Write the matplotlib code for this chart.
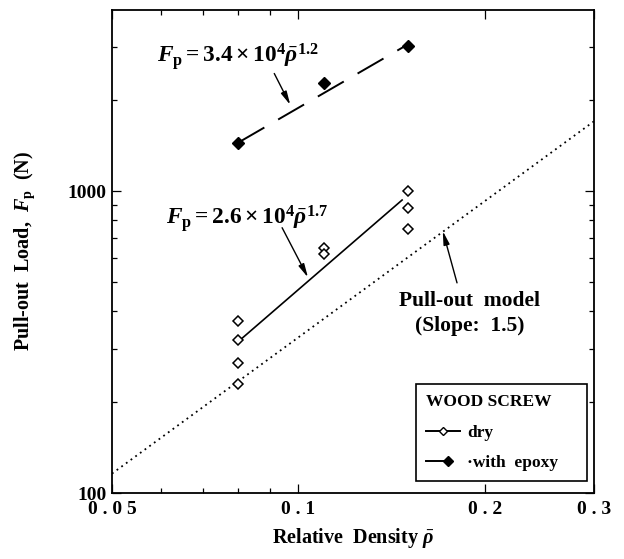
import matplotlib
matplotlib.use("Agg")
import matplotlib.pyplot as plt
import numpy as np
from matplotlib.lines import Line2D
from matplotlib.legend_handler import HandlerBase
from matplotlib.ticker import FixedLocator, FixedFormatter, NullFormatter

plt.rcParams['font.family'] = ['Liberation Serif', 'DejaVu Serif']
plt.rcParams['font.weight'] = 'bold'
plt.rcParams['axes.labelweight'] = 'bold'
plt.rcParams['mathtext.fontset'] = 'custom'
plt.rcParams['mathtext.rm'] = 'Liberation Serif:bold'
plt.rcParams['mathtext.it'] = 'Liberation Serif:italic:bold'
plt.rcParams['mathtext.bf'] = 'Liberation Serif:bold'
plt.rcParams['mathtext.sf'] = 'Liberation Serif:italic'

# --- measured pull-out loads (N) vs relative density ---
dry_density = [0.08, 0.08, 0.08, 0.08, 0.11, 0.11, 0.15, 0.15, 0.15]
dry_load = [372, 322, 269, 230, 650, 618, 1000, 877, 747]

epoxy_density = [0.08, 0.11, 0.15]
epoxy_load = [1443, 2278, 3026]

# power-law fits drawn over the measured range
fit_density = [0.08, 0.147]
dry_fit_load = [318, 935]
epoxy_fit_density = [0.08, 0.15]
epoxy_fit_load = [1450, 3060]

# pull-out model: F = C * rho^1.5
model_slope = 1.5
model_coef = 10375
model_density = np.array([0.05, 0.3])

x_major = [0.05, 0.1, 0.2, 0.3]
x_major_labels = ['0 . 0 5', '0 . 1', '0 . 2', '0 . 3']
x_minor = [0.06, 0.07, 0.08, 0.09]
y_major = [100, 1000]
y_major_labels = ['100', '1000']
y_minor = [200, 300, 400, 500, 600, 700, 800, 900, 2000, 3000]

fig = plt.figure(figsize=(6.24, 5.59), dpi=100)
ax = fig.add_axes([0.1795, 0.118, 0.7724, 0.865])
ax.set_xscale('log')
ax.set_yscale('log')
ax.set_xlim(0.05, 0.3)
ax.set_ylim(100, 4000)

# model line
ax.plot(model_density, model_coef * model_density ** model_slope,
        color='black', lw=1.3, linestyle=(0, (1, 2.2)))
# fit lines
ax.plot(fit_density, dry_fit_load, color='black', lw=1.2)
ax.plot(epoxy_fit_density, epoxy_fit_load, color='black', lw=1.4,
        linestyle=(0, (15.4, 8.2)))
# data points
ax.plot(dry_density, dry_load, linestyle='none', marker='D', ms=5.2,
        mfc='white', mec='black', mew=1.1)
ax.plot(epoxy_density, epoxy_load, linestyle='none', marker='D', ms=5.8,
        mfc='black', mec='black', mew=1.0)

# equations and annotations
ax.text(0.0591, 2685, r'$F_{\mathrm{p}}=3.4\times10^{4}\bar{\mathsf{\rho}}^{1.2}$',
        fontsize=16.8, ha='left', va='baseline')
ax.text(0.0612, 780, r'$F_{\mathrm{p}}=2.6\times10^{4}\bar{\mathsf{\rho}}^{1.7}$',
        fontsize=16.8, ha='left', va='baseline')
arrow = dict(arrowstyle='-|>,head_length=0.8,head_width=0.18', color='black',
             lw=1.0, shrinkA=0, shrinkB=0)
ax.annotate('', xy=(0.0970, 1932), xytext=(0.0914, 2455), arrowprops=arrow)
ax.annotate('', xy=(0.1036, 518), xytext=(0.0941, 757), arrowprops=arrow)
ax.annotate('', xy=(0.171, 738), xytext=(0.1803, 497), arrowprops=arrow)
ax.text(0.189, 417, 'Pull-out  model', fontsize=15.5, ha='center', va='baseline')
ax.text(0.189, 345, '(Slope:  1.5)', fontsize=15.5, ha='center', va='baseline')

# axes ticks
ax.xaxis.set_major_locator(FixedLocator(x_major))
ax.xaxis.set_major_formatter(FixedFormatter(x_major_labels))
ax.xaxis.set_minor_locator(FixedLocator(x_minor))
ax.xaxis.set_minor_formatter(NullFormatter())
ax.yaxis.set_major_locator(FixedLocator(y_major))
ax.yaxis.set_major_formatter(FixedFormatter(y_major_labels))
ax.yaxis.set_minor_locator(FixedLocator(y_minor))
ax.yaxis.set_minor_formatter(NullFormatter())
ax.tick_params(which='both', direction='in', top=True, right=True, width=0.9)
ax.tick_params(which='major', length=6.5, labelsize=14)
ax.tick_params(which='minor', length=3.6)
ax.tick_params(axis='x', which='major', pad=6)
ax.tick_params(axis='y', which='major', pad=4)
for s in ax.spines.values():
    s.set_linewidth(1.3)

ax.set_xlabel(r'Relative  Density $\bar{\mathsf{\rho}}$', fontsize=14.5)
ax.xaxis.set_label_coords(0.5, -0.068)
ax.set_ylabel(r'Pull-out  Load,  $F_{\mathrm{p}}$  (N)', fontsize=14.5)
ax.yaxis.set_label_coords(-0.155, 0.5)


class LineMarkerHandler(HandlerBase):
    """Legend handle: a line with a diamond placed at a chosen fraction."""

    def __init__(self, line_frac=1.0, marker_frac=0.5, **kw):
        super().__init__(**kw)
        self.line_frac = line_frac
        self.marker_frac = marker_frac

    def create_artists(self, legend, orig_handle, xdescent, ydescent, width,
                       height, fontsize, trans):
        y = height / 2.0 - ydescent
        x0 = -xdescent
        x1 = x0 + self.line_frac * width
        xm = x0 + self.marker_frac * width
        line = Line2D([x0, x1], [y, y], color=orig_handle.get_color(),
                      lw=orig_handle.get_linewidth())
        mk = Line2D([xm], [y], linestyle='none',
                    marker=orig_handle.get_marker(),
                    ms=orig_handle.get_markersize(),
                    mfc=orig_handle.get_markerfacecolor(),
                    mec=orig_handle.get_markeredgecolor(),
                    mew=orig_handle.get_markeredgewidth())
        line.set_transform(trans)
        mk.set_transform(trans)
        return [line, mk]


h_dry = Line2D([], [], color='black', lw=1.4, marker='D', ms=4.2,
               mfc='white', mec='black', mew=1.0)
h_epoxy = Line2D([], [], color='black', lw=1.4, marker='D', ms=5.0,
                 mfc='black', mec='black', mew=1.0)
leg = ax.legend([h_dry, h_epoxy], ['dry', '\u00b7with  epoxy'],
                handler_map={h_dry: LineMarkerHandler(1.0, 0.5),
                             h_epoxy: LineMarkerHandler(0.66, 0.66)},
                title='WOOD SCREW', title_fontsize=12.5,
                prop={'size': 12.5, 'weight': 'bold'},
                loc='lower left', bbox_to_anchor=(0.6307, 0.0248, 0.3548, 0.2),
                mode='expand', borderaxespad=0, frameon=True, fancybox=False,
                framealpha=1, edgecolor='black', handlelength=2.0,
                handletextpad=0.4, labelspacing=0.85, borderpad=0.55,
                alignment='left')
leg.get_frame().set_linewidth(1.2)
leg.get_title().set_fontweight('bold')

fig.savefig('out.png', dpi=100)
